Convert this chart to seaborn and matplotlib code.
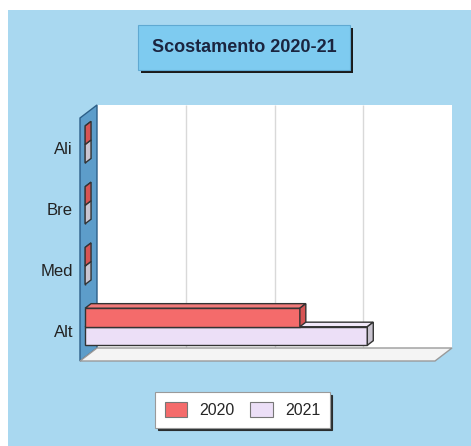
import numpy as np
import pandas as pd
import seaborn as sns
import matplotlib.pyplot as plt
from matplotlib.patches import Rectangle, Polygon

# ---- data ----
categories = ['Ali', 'Bre', 'Med', 'Alt']
years = ['2020', '2021']
values_2020 = [0.0, 0.0, 0.0, 2.42]
values_2021 = [0.0, 0.0, 0.0, 3.18]
grid_ticks = [1, 2, 3]
x_max = 4

title = 'Scostamento 2020-21'

# ---- style ----
sns.set_theme(style='white')
plt.rcParams['font.family'] = ['Liberation Sans', 'DejaVu Sans']

BG = '#a9d8f0'
RED = '#f46b6b'
LAV = '#ecdff7'
# (top face, side face) per year
FACES = {'2020': ('#f27a7a', '#d65454'), '2021': ('#f1e8f9', '#c9c4d0')}
EDGE = '#333333'

# depth of the 3d box in pixels (right, up)
DX, DY = 17, 13
BAR_F0, BAR_F1 = 0.30, 0.65

W, H = 471, 446
fig = plt.figure(figsize=(W / 100, H / 100), dpi=100)
fig.patch.set_facecolor('white')
fig.patches.append(Rectangle((8 / W, 0), 1, 1 - 10 / H, transform=fig.transFigure,
                             facecolor=BG, edgecolor='none', zorder=-5))

# front plane of the 3d box
ax = fig.add_axes([80 / W, 1 - 361 / H, 355 / W, 243 / H])

df = pd.DataFrame({
    'categoria': categories * 2,
    'anno': [years[0]] * len(categories) + [years[1]] * len(categories),
    'valore': values_2020 + values_2021,
})

sns.barplot(data=df, y='categoria', x='valore', hue='anno', orient='h',
            order=categories, hue_order=years, palette=[RED, LAV],
            saturation=1, width=0.61, gap=0, edgecolor=EDGE, linewidth=1,
            legend=False, ax=ax)

ax.set_xlim(0, x_max)
ax.set_ylim(len(categories) - 0.5, -0.5)
ax.patch.set_visible(False)
for s in ax.spines.values():
    s.set_visible(False)
ax.set_xticks([])
ax.set_xlabel('')
ax.set_ylabel('')
ax.tick_params(axis='y', length=0, pad=5, labelsize=12, labelcolor='#222222')


def depth_offset(f):
    # data offset that corresponds to a depth fraction f of the box
    p0 = ax.transData.transform((0, 0))
    p1 = ax.transData.inverted().transform((p0[0] + DX * f, p0[1] + DY * f))
    o = ax.transData.inverted().transform(p0)
    return p1[0] - o[0], p1[1] - o[1]


y_lo, y_hi = -0.5, len(categories) - 0.5
bx, by = depth_offset(1.0)

# back wall + grid
ax.add_patch(Rectangle((bx, y_lo + by), x_max, y_hi - y_lo, facecolor='white',
                       edgecolor='none', zorder=0, clip_on=False))
ax.vlines([t + bx for t in grid_ticks], y_lo + by, y_hi + by,
          colors='#d9d9d9', lw=1, zorder=0.5, clip_on=False)

# left wall
ax.add_patch(Polygon([(0, y_hi), (0, y_lo), (bx, y_lo + by), (bx, y_hi + by)],
                     closed=True, facecolor='#5d9dca', edgecolor='#2d5f88',
                     lw=1, zorder=1, clip_on=False))
# floor
ax.add_patch(Polygon([(0, y_hi), (x_max, y_hi), (x_max + bx, y_hi + by), (bx, y_hi + by)],
                     closed=True, facecolor='#f4f4f4', edgecolor='#9a9a9a',
                     lw=1, zorder=1, clip_on=False))

# 3d bars: shift the front faces and add top / side faces
ox0, oy0 = depth_offset(BAR_F0)
ox1, oy1 = depth_offset(BAR_F1)
n = len(categories)
bar_years = [years[0]] * n + [years[1]] * n  # seaborn adds bars hue by hue
bars = list(zip(ax.patches[:len(df)], bar_years))
bars.sort(key=lambda b: -b[0].get_y())
for i, (p, yr) in enumerate(bars):
    x0, y0, w, h = p.get_x(), p.get_y(), p.get_width(), p.get_height()
    top_c, side_c = FACES[yr]
    z = 3 + i * 0.01
    p.set_x(x0 + ox0)
    p.set_y(y0 + oy0)
    p.set_zorder(z)
    p.set_clip_on(False)
    top = Polygon([(x0 + ox0, y0 + oy0), (x0 + w + ox0, y0 + oy0),
                   (x0 + w + ox1, y0 + oy1), (x0 + ox1, y0 + oy1)],
                  closed=True, facecolor=top_c, edgecolor=EDGE, lw=1,
                  zorder=z, clip_on=False)
    side = Polygon([(x0 + w + ox0, y0 + oy0), (x0 + w + ox0, y0 + h + oy0),
                    (x0 + w + ox1, y0 + h + oy1), (x0 + w + ox1, y0 + oy1)],
                   closed=True, facecolor=side_c, edgecolor=EDGE, lw=1,
                   zorder=z, clip_on=False)
    ax.add_patch(top)
    ax.add_patch(side)

# title box with hard shadow
tx0, ty0, tx1, ty1 = 138, 25, 350, 70
fig.patches.append(Rectangle(((tx0 + 3) / W, 1 - (ty1 + 3) / H), (tx1 - tx0) / W, (ty1 - ty0) / H,
                             transform=fig.transFigure, facecolor='#1a1a1a',
                             edgecolor='none', zorder=1))
fig.patches.append(Rectangle((tx0 / W, 1 - ty1 / H), (tx1 - tx0) / W, (ty1 - ty0) / H,
                             transform=fig.transFigure, facecolor='#7ecbf0',
                             edgecolor='#5fa9d2', lw=0.8, zorder=2))
fig.text((tx0 + tx1) / 2 / W, 1 - (ty0 + ty1) / 2 / H, title, ha='center', va='center',
         fontsize=13, fontweight='bold', color='#1b2540', zorder=3)

# legend
handles = [Rectangle((0, 0), 1, 1, facecolor=RED, edgecolor='#777777', lw=0.8),
           Rectangle((0, 0), 1, 1, facecolor=LAV, edgecolor='#777777', lw=0.8)]
leg = fig.legend(handles, years, loc='center', bbox_to_anchor=(242.5 / W, 1 - 410 / H),
                 ncol=2, fontsize=11.5, frameon=True, fancybox=False,
                 shadow={'color': '#222222', 'alpha': 0.9},
                 edgecolor='#9a9a9a', facecolor='white', framealpha=1,
                 handlelength=1.4, handleheight=1.1, handletextpad=0.75,
                 columnspacing=1.0, borderpad=0.6, borderaxespad=0)
leg.get_frame().set_linewidth(0.8)

fig.savefig('out.png', dpi=100)
